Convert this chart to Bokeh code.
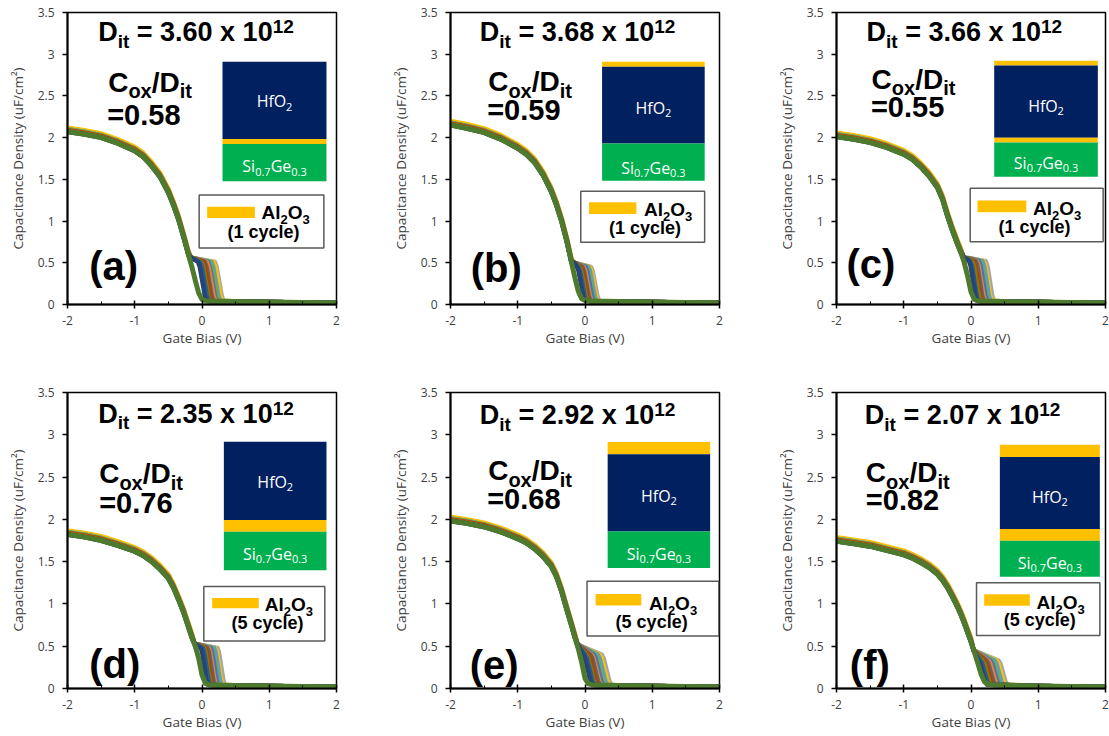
from bokeh.plotting import figure
from bokeh.models import Range1d, FixedTicker, NumeralTickFormatter, Label
from bokeh.layouts import row, column
from bokeh.embed import file_html
from bokeh.resources import INLINE

# ---------------- data ----------------
gate_bias = [-2, -1.75, -1.5, -1.25, -1, -0.875, -0.75, -0.625, -0.5, -0.425, -0.35, -0.275,
             -0.2, -0.15, -0.1, -0.05, 0, 0.05, 0.1, 0.15, 0.2, 0.25, 0.3, 0.5, 1, 1.5, 2]

cap_a = [2.07, 2.04, 2.00, 1.93, 1.84, 1.77, 1.66, 1.53, 1.34, 1.19, 1.02, 0.81,
         0.59, 0.45, 0.29, 0.14, 0.06, 0.045, 0.04, 0.04, 0.04, 0.038, 0.038, 0.035, 0.03, 0.025, 0.02]
cap_b = [2.15, 2.11, 2.06, 1.98, 1.87, 1.80, 1.70, 1.55, 1.35, 1.19, 1.00, 0.77,
         0.50, 0.32, 0.16, 0.07, 0.05, 0.045, 0.04, 0.04, 0.04, 0.038, 0.038, 0.035, 0.03, 0.025, 0.02]
cap_c = [2.01, 1.98, 1.94, 1.88, 1.80, 1.74, 1.65, 1.54, 1.40, 1.26, 1.06, 0.88,
         0.72, 0.62, 0.50, 0.34, 0.15, 0.06, 0.045, 0.04, 0.04, 0.038, 0.038, 0.035, 0.03, 0.025, 0.02]
cap_d = [1.82, 1.79, 1.75, 1.69, 1.62, 1.57, 1.50, 1.41, 1.30, 1.19, 1.05, 0.90,
         0.72, 0.60, 0.50, 0.36, 0.16, 0.06, 0.045, 0.04, 0.04, 0.038, 0.038, 0.035, 0.03, 0.025, 0.02]
cap_e = [1.98, 1.95, 1.91, 1.85, 1.77, 1.72, 1.65, 1.56, 1.44, 1.32, 1.15, 0.94,
         0.74, 0.60, 0.47, 0.31, 0.12, 0.055, 0.045, 0.04, 0.04, 0.038, 0.038, 0.035, 0.03, 0.025, 0.02]
cap_f = [1.74, 1.71, 1.68, 1.63, 1.58, 1.54, 1.49, 1.43, 1.35, 1.28, 1.19, 1.08,
         0.96, 0.87, 0.77, 0.66, 0.55, 0.43, 0.30, 0.17, 0.08, 0.05, 0.045, 0.04, 0.03, 0.025, 0.02]

# lower-frequency curves: voltage where each one leaves its hump (outermost first)
knee_a = [0.19, 0.17, 0.14, 0.12, 0.09, 0.07, 0.04, 0.02, -0.01, -0.03, -0.06]
knee_b = [0.09, 0.07, 0.05, 0.03, 0.01, -0.02, -0.04, -0.06, -0.08, -0.10, -0.12]
knee_c = [0.22, 0.19, 0.17, 0.14, 0.12, 0.09, 0.07, 0.04, 0.02, -0.01, -0.03]
knee_d = [0.23, 0.20, 0.18, 0.15, 0.13, 0.10, 0.08, 0.05, 0.03, 0.01, -0.02]
knee_e = [0.25, 0.22, 0.19, 0.16, 0.13, 0.10, 0.08, 0.05, 0.02, 0.00, -0.03]
knee_f = [0.41, 0.38, 0.35, 0.32, 0.29, 0.26, 0.23, 0.20, 0.17, 0.14, 0.11]
hump_start_v = [-0.2, -0.2, -0.15, -0.15, -0.15, 0.0]
hump_top_c = [0.56, 0.50, 0.57, 0.53, 0.52, 0.45]
hump_end_c = [0.51, 0.45, 0.52, 0.48, 0.40, 0.33]
hump_drop_v = [0.13, 0.12, 0.12, 0.11, 0.14, 0.13]
floor_c = [0.045, 0.045, 0.045, 0.045, 0.045, 0.045]
fan_lift = [0.04, 0.05, 0.03, 0.03, 0.02, 0.02, 0.01, 0.02, 0.01, 0.0, 0.0]
# shape of the step at the end of a hump (fraction of drop width, fraction of height)
drop_shape_v = [0.0, 0.2, 0.5, 0.8, 1.0]
drop_shape_c = [1.0, 0.88, 0.5, 0.12, 0.0]

panel_tags = ["(a)", "(b)", "(c)", "(d)", "(e)", "(f)"]
dit_values = ["3.60", "3.68", "3.66", "2.35", "2.92", "2.07"]
cox_ratio = ["0.58", "0.59", "0.55", "0.76", "0.68", "0.82"]
cycles = ["(1 cycle)", "(1 cycle)", "(1 cycle)", "(5 cycle)", "(5 cycle)", "(5 cycle)"]
x_ticks = [-2, -1, 0, 1, 2]
x_minor = [-1.5, -0.5, 0.5, 1.5]
y_ticks = [0, 0.5, 1, 1.5, 2, 2.5, 3, 3.5]

main_caps = [cap_a, cap_b, cap_c, cap_d, cap_e, cap_f]
knees = [knee_a, knee_b, knee_c, knee_d, knee_e, knee_f]

# ---------------- styles / layout ----------------
FAN_COLORS = ["#A5A5A5", "#FFC000", "#5B9BD5", "#70AD47", "#4472C4", "#ED7D31",
              "#636363", "#9E480E", "#997300", "#255E91", "#264478"]
MAIN_COLOR = "#4E7A2E"
NAVY, GOLD, GREEN = "#002060", "#FFC000", "#00B050"

GEOM = [
    dict(dit=(-1.544, 3.16), cox=(-1.395, 2.554), ratio=(-1.41, 2.155), tag=(-1.678, 0.30),
         sx=(0.305, 1.851), layers=[(NAVY, 2.909, 1.983), (GOLD, 1.983, 1.923), (GREEN, 1.923, 1.476)],
         hf=2.44, si=1.66, box=(-0.042, 1.812, 0.678, 1.313), sw=(0.077, 0.786, 1.037, 1.173),
         al=(0.885, 1.025), cyc=(0.379, 0.798)),
    dict(dit=(-1.564, 3.16), cox=(-1.44, 2.56), ratio=(-1.455, 2.22), tag=(-1.70, 0.28),
         sx=(0.254, 1.78), layers=[(GOLD, 2.909, 2.849), (NAVY, 2.849, 1.931), (GREEN, 1.931, 1.484)],
         hf=2.36, si=1.64, box=(-0.063, 1.779, 0.746, 1.357), sw=(0.06, 0.764, 1.085, 1.225),
         al=(0.878, 1.065), cyc=(0.357, 0.846)),
    dict(dit=(-1.553, 3.158), cox=(-1.478, 2.589), ratio=(-1.488, 2.256), tag=(-1.851, 0.33),
         sx=(0.345, 1.886), layers=[(GOLD, 2.923, 2.864), (NAVY, 2.864, 2.0), (GOLD, 2.0, 1.942), (GREEN, 1.942, 1.53)],
         hf=2.39, si=1.70, box=(-0.012, 1.965, 0.753, 1.393), sw=(0.097, 0.822, 1.106, 1.248),
         al=(0.922, 1.079), cyc=(0.41, 0.855)),
    dict(dit=(-1.544, 3.143), cox=(-1.529, 2.429), ratio=(-1.529, 2.079), tag=(-1.678, 0.13),
         sx=(0.325, 1.851), layers=[(NAVY, 2.917, 1.992), (GOLD, 1.992, 1.853), (GREEN, 1.853, 1.397)],
         hf=2.448, si=1.595, box=(0.027, 1.826, 0.563, 1.206), sw=(0.151, 0.845, 0.948, 1.071),
         al=(0.934, 0.92), cyc=(0.439, 0.702)),
    dict(dit=(-1.564, 3.129), cox=(-1.44, 2.463), ratio=(-1.455, 2.129), tag=(-1.713, 0.12),
         sx=(0.337, 1.861), layers=[(GOLD, 2.914, 2.769), (NAVY, 2.769, 1.855), (GREEN, 1.855, 1.424)],
         hf=2.286, si=1.60, box=(0.03, 1.99, 0.62, 1.267), sw=(0.158, 0.837, 0.98, 1.118),
         al=(0.95, 0.933), cyc=(0.455, 0.718)),
    dict(dit=(-1.579, 3.129), cox=(-1.564, 2.444), ratio=(-1.564, 2.112), tag=(-1.802, 0.12),
         sx=(0.429, 1.916), layers=[(GOLD, 2.882, 2.738), (NAVY, 2.738, 1.885), (GOLD, 1.885, 1.748), (GREEN, 1.748, 1.322)],
         hf=2.268, si=1.486, box=(0.082, 1.916, 0.626, 1.251), sw=(0.196, 0.875, 0.978, 1.115),
         al=(0.974, 0.946), cyc=(0.488, 0.735)),
]

WIDTHS = [383, 386, 340]
BORDER_LR = [(67, 47), (67, 50), (67, 4)]
ROW_H = [380, 356]
BORDER_TB = [(12, 76), (12, 48)]
BASE_FIX = 0.33   # em shift that puts Bokeh's label baseline where the reference has it

ARIAL_B = {' ': 278, '=': 584, '.': 278, 'x': 556, 'D': 722, 'i': 278, 't': 333, 'C': 722,
           'o': 611, '/': 278, 'A': 722, 'l': 278, 'O': 778, '(': 333, ')': 333, 'c': 556,
           'y': 556, 'e': 556}
OPEN = {'H': 738, 'f': 319, 'O': 779, 'S': 549, 'i': 258, 'G': 721, 'e': 561, '.': 266}


def w_arial(s, size):
    return sum(ARIAL_B.get(ch, 556) for ch in s) * size / 1000.0


def w_open(s, size):
    return sum(OPEN.get(ch, 572) for ch in s) * size / 1000.0


def run(p, x, y, pieces, ys, font="Liberation Sans", bold=True, color="black", center=False):
    wf = w_arial if font == "Liberation Sans" else w_open
    total = sum(wf(t, s) for t, s, _ in pieces)
    cum = -total / 2.0 if center else 0.0
    for txt, size, dy in pieces:
        stripped = txt.lstrip(" ")
        cum += wf(txt[:len(txt) - len(stripped)], size)
        p.add_layout(Label(x=x, y=y + (dy + BASE_FIX * size) / ys, x_offset=cum, text=stripped,
                           text_font=font, text_font_size="%gpx" % size,
                           text_font_style="bold" if bold else "normal",
                           text_color=color, text_baseline="alphabetic", text_align="left"))
        cum += wf(stripped, size)


def fan_curve(k, i):
    main = main_caps[k]
    split = hump_start_v[k]
    knee = knees[k][i]
    drop = hump_drop_v[k]
    end = knee + drop
    plat, flo = hump_end_c[k], floor_c[k]
    xs, ys = [], []
    for v, c in zip(gate_bias, main):
        if v <= split:
            xs.append(v)
            ys.append(c + fan_lift[i])
    if knee > split + 0.06:
        xs.append(split + 0.04)
        ys.append(hump_top_c[k])
    for fv, fc in zip(drop_shape_v, drop_shape_c):
        xs.append(knee + fv * drop)
        ys.append(flo + fc * (plat - flo))
    for v, c in zip(gate_bias, main):
        if v > end:
            xs.append(v)
            ys.append(c)
    return xs, ys


figs = []
for k in range(6):
    r, col = divmod(k, 3)
    bl, br = BORDER_LR[col]
    bt, bb = BORDER_TB[r]
    W, H = WIDTHS[col], ROW_H[r]
    frame_h = H - bt - bb
    ysc = frame_h / 3.5
    p = figure(width=W, height=H, x_range=Range1d(-2, 2), y_range=Range1d(0, 3.5),
               output_backend="svg", toolbar_location=None,
               min_border_left=bl, min_border_right=br, min_border_top=bt, min_border_bottom=bb)
    p.xgrid.visible = False
    p.ygrid.visible = False
    p.outline_line_color = "black"
    p.outline_line_width = 1.5
    p.background_fill_color = "white"
    p.border_fill_color = "white"

    for ax in (p.xaxis[0], p.yaxis[0]):
        ax.axis_line_color = "black"
        ax.axis_line_width = 2
        ax.major_tick_line_color = "black"
        ax.major_tick_line_width = 1.5
        ax.major_label_text_font = "Open Sans"
        ax.major_label_text_font_size = "12px"
        ax.major_label_text_color = "#404040"
        ax.axis_label_text_font = "Open Sans"
        ax.axis_label_text_font_size = "13.5px"
        ax.axis_label_text_font_style = "normal"
        ax.axis_label_text_color = "#404040"
    xa, ya = p.xaxis[0], p.yaxis[0]
    xa.ticker = FixedTicker(ticks=x_ticks, minor_ticks=x_minor)
    xa.formatter = NumeralTickFormatter(format="0")
    xa.major_tick_in = 4
    xa.major_tick_out = 4
    xa.minor_tick_in = 3
    xa.minor_tick_out = 0
    xa.minor_tick_line_color = "black"
    xa.minor_tick_line_width = 1
    xa.major_label_standoff = 7
    xa.axis_label = "Gate Bias (V)"
    xa.axis_label_standoff = 1
    ya.ticker = FixedTicker(ticks=y_ticks)
    ya.formatter = NumeralTickFormatter(format="0.[0]")
    ya.minor_tick_line_color = None
    ya.major_tick_in = 0
    ya.major_tick_out = 5
    ya.major_label_standoff = 8
    ya.axis_label = "Capacitance Density (uF/cm²)"
    ya.axis_label_standoff = 8

    for i in range(len(FAN_COLORS)):
        fx, fy = fan_curve(k, i)
        p.line(fx, fy, line_color=FAN_COLORS[i], line_width=4.5, line_join="round", line_cap="round")
    p.line(gate_bias, main_caps[k], line_color=MAIN_COLOR, line_width=5, line_join="round", line_cap="round")

    g = GEOM[k]
    x0, x1 = g["sx"]
    for colr, top, bot in g["layers"]:
        p.quad(left=x0, right=x1, top=top, bottom=bot, fill_color=colr, line_color=None)
    cx = (x0 + x1) / 2.0
    run(p, cx, g["hf"] - 5.7 / ysc, [("HfO", 16, 0), ("2", 11, -3.5)], ysc,
        font="Open Sans", bold=False, color="white", center=True)
    run(p, cx, g["si"] - 5.7 / ysc,
        [("Si", 16, 0), ("0.7", 11, -3.5), ("Ge", 16, 0), ("0.3", 11, -3.5)], ysc,
        font="Open Sans", bold=False, color="white", center=True)

    bx0, bx1, by0, by1 = g["box"]
    p.quad(left=bx0, right=bx1, bottom=by0, top=by1, fill_color="white",
           line_color="#5A5A5A", line_width=1.5)
    sx0, sx1, sy0, sy1 = g["sw"]
    p.quad(left=sx0, right=sx1, bottom=sy0, top=sy1, fill_color=GOLD, line_color=None)
    run(p, g["al"][0], g["al"][1], [("Al", 19, 0), ("2", 13, -5), ("O", 19, 0), ("3", 13, -5)], ysc)
    run(p, g["cyc"][0], g["cyc"][1], [(cycles[k], 18, 0)], ysc)

    run(p, g["dit"][0], g["dit"][1],
        [("D", 27, 0), ("it", 19, -6.5), (" = %s x 10" % dit_values[k], 27, 0), ("12", 19, 8)], ysc)
    run(p, g["cox"][0], g["cox"][1],
        [("C", 28, 0), ("ox", 20, -6.5), ("/D", 28, 0), ("it", 20, -6.5)], ysc)
    run(p, g["ratio"][0], g["ratio"][1], [("=" + cox_ratio[k], 29, 0)], ysc)
    run(p, g["tag"][0], g["tag"][1], [(panel_tags[k], 40, 0)], ysc)

    figs.append(p)

layout = column(row(*figs[:3]), row(*figs[3:]))
open("out.html", "w").write(file_html(layout, INLINE))
